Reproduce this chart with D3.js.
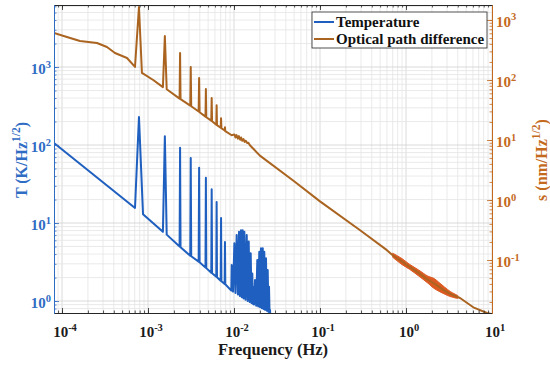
<!DOCTYPE html>
<html>
<head>
<meta charset="utf-8">
<script src="https://cdn.jsdelivr.net/npm/d3@7"></script>
<style>
  body { margin: 0; background: #fff; }
  svg text { font-family: "Liberation Serif", "Times New Roman", serif; font-weight: bold; }
</style>
</head>
<body>
<div id="chart"></div>
<script>
// tick labels (10^exp)
var xTicks = [1e-4, 1e-3, 1e-2, 1e-1, 1, 10];
var xTickExp = ["-4", "-3", "-2", "-1", "0", "1"];
var tTicks = [1, 10, 100, 1000];
var tTickExp = ["0", "1", "2", "3"];
var sTicks = [0.1, 1, 10, 100, 1000];
var sTickExp = ["-1", "0", "1", "2", "3"];

var seriesNames = ["Temperature", "Optical path difference"];

// temperature ASD, K/Hz^1/2 (left axis)
var tempFreq = [8.07e-5, 7.06e-4, 7.85e-4, 8.75e-4, 1.49e-3, 1.57e-3, 1.65e-3,
  2.33e-3, 2.36e-3, 2.39e-3, 3.10e-3, 3.14e-3, 3.18e-3, 3.88e-3, 3.93e-3, 3.98e-3,
  4.66e-3, 4.71e-3, 4.76e-3, 5.44e-3, 5.50e-3, 5.56e-3, 6.22e-3, 6.28e-3, 6.34e-3,
  7.00e-3, 7.07e-3, 7.14e-3, 7.78e-3, 7.85e-3, 7.92e-3, 9.30e-3, 9.40e-3,
  9.75e-3, 0.0101, 0.0104, 0.01074, 0.0111, 0.01143, 0.0117, 0.01205, 0.0123, 0.01262,
  0.0129, 0.0132, 0.0136, 0.01406, 0.0144, 0.01483, 0.0152, 0.01564, 0.0160, 0.01633,
  0.0165, 0.01676, 0.0171, 0.01754, 0.0181, 0.01866, 0.0191, 0.01968, 0.0201, 0.0206,
  0.0211, 0.0216, 0.0221, 0.0225, 0.0230, 0.02355, 0.0241, 0.02466, 0.0251, 0.02553,
  0.0259, 0.02624, 0.0265];
var tempVal = [106, 15.6, 228, 13.0, 7.7, 130, 7.1,
  5.0, 92, 4.9, 3.8, 68, 3.75, 3.2, 51, 3.15,
  2.68, 38, 2.64, 2.3, 27, 2.27, 2.05, 18.6, 2.02,
  1.82, 11.6, 1.79, 1.66, 5.7, 1.64, 1.36, 2.9,
  1.32, 5.5, 1.27, 7.0, 1.21, 7.7, 1.16, 8.1, 1.12, 8.1,
  1.08, 7.7, 1.04, 7.0, 1.00, 5.8, 0.97, 4.1, 0.94, 2.26,
  0.92, 1.52, 0.90, 1.86, 0.87, 3.35, 0.85, 4.29, 0.83, 4.74,
  0.81, 4.74, 0.79, 4.29, 0.77, 3.53, 0.75, 2.5, 0.73, 1.52,
  0.71, 0.77, 0.6];

// optical path difference ASD, nm/Hz^1/2 (right axis)
var opdFreq = [8.07e-5, 1.14e-4, 1.62e-4, 2.55e-4, 3.33e-4, 4.13e-4, 5.7e-4, 7.06e-4,
  7.85e-4, 8.5e-4, 1.15e-3, 1.49e-3, 1.57e-3, 1.65e-3, 2.33e-3, 2.36e-3, 2.39e-3,
  3.10e-3, 3.14e-3, 3.18e-3, 3.88e-3, 3.93e-3, 3.98e-3, 4.66e-3, 4.71e-3, 4.76e-3,
  5.44e-3, 5.50e-3, 5.56e-3, 6.22e-3, 6.28e-3, 6.34e-3, 7.00e-3, 7.07e-3, 7.14e-3,
  7.78e-3, 7.85e-3, 7.92e-3, 9.4e-3,
  0.0101, 0.0104, 0.0107, 0.0111, 0.0114, 0.0118, 0.0121, 0.0125, 0.0129, 0.0133,
  0.0137, 0.0142, 0.0147, 0.0153, 0.02, 0.05, 0.1, 0.29, 0.6,
  0.7, 0.9, 1.1, 1.4, 1.8, 2.1, 2.4, 2.8, 3.3, 4.25, 6.06, 8.75, 10];
var opdVal = [607, 521, 447, 414, 355, 282, 233, 165,
  1650, 131, 100, 76, 541, 70, 49, 282, 48,
  37.5, 165, 36.5, 29.8, 108, 29, 24.5, 71, 24,
  21, 50, 20.6, 18, 38, 17.7, 16, 23, 15.7,
  14.4, 16.3, 14.1, 12.0,
  12.4, 11.0, 12.1, 10.5, 11.6, 10.1, 11.0, 9.7, 10.4, 9.3,
  9.7, 8.9, 9.0, 8.2, 5.5, 2.05, 0.95, 0.316, 0.146,
  0.12, 0.094, 0.077, 0.061, 0.047, 0.041, 0.036, 0.031, 0.027, 0.0233, 0.0163, 0.0131, 0.0125];

// spread of the noisy optical path difference between 0.7 and 4 Hz
var opdBandFreq = [0.7, 0.9, 1.1, 1.4, 1.8, 2.1, 2.4, 2.8, 3.3, 4.0];
var opdBandLo = [0.111, 0.0838, 0.070, 0.0544, 0.0411, 0.0339, 0.0303, 0.0271, 0.0245, 0.0229];
var opdBandHi = [0.130, 0.1055, 0.0847, 0.0684, 0.0538, 0.0496, 0.0428, 0.0355, 0.0297, 0.0256];

var width = 550;
var height = 365;
var plotLeft = 54, plotRight = 492, plotTop = 5, plotBottom = 313;

var blue = "#1f5fbf";
var blueAxis = "#2f6cc4";
var orange = "#aa6420";
var orangeNoise = "#dc5a22";
var orangeAxis = "#c46a1e";

var x = d3.scaleLog().domain([8.07e-5, 10]).range([plotLeft, plotRight]);
var yT = d3.scaleLog().domain([0.702, 6240]).range([plotBottom, plotTop]);
var yS = d3.scaleLog().domain([0.0131, 1778]).range([plotBottom, plotTop]);

function logTicks(scale) {
  var d = scale.domain(), out = [];
  for (var e = Math.floor(Math.log10(d[0])); e <= Math.ceil(Math.log10(d[1])); e++) {
    for (var m = 1; m < 10; m++) {
      var v = m * Math.pow(10, e);
      if (v >= d[0] && v <= d[1]) out.push(v);
    }
  }
  return out;
}

var svg = d3.select("#chart")
.append("svg")
.attr("width", width)
.attr("height", height);

svg.append("defs").append("clipPath")
.attr("id", "plotclip")
.append("rect")
.attr("x", plotLeft)
.attr("y", plotTop)
.attr("width", plotRight - plotLeft)
.attr("height", plotBottom - plotTop);

// grid
var grid = svg.append("g").attr("class", "grid");
grid.selectAll("line.vx")
.data(logTicks(x))
.enter().append("line")
.attr("x1", function(d) { return x(d); })
.attr("x2", function(d) { return x(d); })
.attr("y1", plotTop)
.attr("y2", plotBottom)
.attr("stroke", function(d) { return xTicks.indexOf(d) >= 0 ? "#d2d2d2" : "#e4e4e4"; })
.attr("stroke-width", 0.8);

grid.selectAll("line.hy")
.data(logTicks(yT))
.enter().append("line")
.attr("x1", plotLeft)
.attr("x2", plotRight)
.attr("y1", function(d) { return yT(d); })
.attr("y2", function(d) { return yT(d); })
.attr("stroke", function(d) { return tTicks.indexOf(d) >= 0 ? "#d2d2d2" : "#e4e4e4"; })
.attr("stroke-width", 0.8);

// series
var plot = svg.append("g").attr("clip-path", "url(#plotclip)");

plot.append("path")
.datum(d3.zip(tempFreq, tempVal))
.attr("fill", "none")
.attr("stroke", blue)
.attr("stroke-width", 2)
.attr("stroke-linejoin", "round")
.attr("d", d3.line().x(function(d) { return x(d[0]); }).y(function(d) { return yT(d[1]); }));

plot.append("path")
.datum(d3.zip(opdBandFreq, opdBandLo, opdBandHi))
.attr("fill", orangeNoise)
.attr("stroke", orangeNoise)
.attr("stroke-width", 1)
.attr("d", d3.area()
  .x(function(d) { return x(d[0]); })
  .y0(function(d) { return yS(d[1]); })
  .y1(function(d) { return yS(d[2]); })
  .curve(d3.curveCatmullRom));

plot.append("path")
.datum(d3.zip(opdFreq, opdVal))
.attr("fill", "none")
.attr("stroke", orange)
.attr("stroke-width", 2)
.attr("stroke-linejoin", "round")
.attr("d", d3.line().x(function(d) { return x(d[0]); }).y(function(d) { return yS(d[1]); }));

// axes (ticks point inward)
function styleAxis(g, color) {
  g.selectAll("path").attr("stroke", color).attr("stroke-width", 1);
  g.selectAll("line").attr("stroke", color).attr("stroke-width", 0.8);
  g.selectAll("text").remove();
}

[[d3.axisBottom, plotBottom], [d3.axisTop, plotTop]].forEach(function(a) {
  svg.append("g")
  .attr("transform", "translate(0," + a[1] + ")")
  .call(a[0](x).tickValues(logTicks(x)).tickSizeInner(-2.5).tickSizeOuter(0).tickFormat(""))
  .call(styleAxis, "#262626");
  svg.append("g")
  .attr("transform", "translate(0," + a[1] + ")")
  .call(a[0](x).tickValues(xTicks).tickSizeInner(-5).tickSizeOuter(0).tickFormat(""))
  .call(styleAxis, "#262626");
});

svg.append("g")
.attr("transform", "translate(" + plotLeft + ",0)")
.call(d3.axisLeft(yT).tickValues(logTicks(yT)).tickSizeInner(-2.5).tickSizeOuter(0).tickFormat(""))
.call(styleAxis, blueAxis);
svg.append("g")
.attr("transform", "translate(" + plotLeft + ",0)")
.call(d3.axisLeft(yT).tickValues(tTicks).tickSizeInner(-5).tickSizeOuter(0).tickFormat(""))
.call(styleAxis, blueAxis);

svg.append("g")
.attr("transform", "translate(" + plotRight + ",0)")
.call(d3.axisRight(yS).tickValues(logTicks(yS)).tickSizeInner(-2.5).tickSizeOuter(0).tickFormat(""))
.call(styleAxis, orangeAxis);
svg.append("g")
.attr("transform", "translate(" + plotRight + ",0)")
.call(d3.axisRight(yS).tickValues(sTicks).tickSizeInner(-5).tickSizeOuter(0).tickFormat(""))
.call(styleAxis, orangeAxis);

// power-of-ten labels
function powLabel(sel, exps) {
  sel.append("tspan").text("10");
  sel.append("tspan")
  .attr("dy", -6.5)
  .attr("font-size", 10.5)
  .text(function(d, i) { return exps[i]; });
}

svg.append("g").selectAll("text")
.data(xTicks)
.enter().append("text")
.attr("x", function(d) { return x(d) + 3; })
.attr("y", 337)
.attr("text-anchor", "middle")
.attr("font-size", 15)
.attr("fill", "#1a1a1a")
.call(powLabel, xTickExp);

svg.append("g").selectAll("text")
.data(tTicks)
.enter().append("text")
.attr("x", 51)
.attr("y", function(d) { return yT(d) + 7; })
.attr("text-anchor", "end")
.attr("font-size", 15)
.attr("fill", blueAxis)
.call(powLabel, tTickExp);

svg.append("g").selectAll("text")
.data(sTicks)
.enter().append("text")
.attr("x", 496)
.attr("y", function(d) { return yS(d) + 7; })
.attr("text-anchor", "start")
.attr("font-size", 15)
.attr("fill", orangeAxis)
.call(powLabel, sTickExp);

// axis titles
svg.append("text")
.attr("x", (plotLeft + plotRight) / 2)
.attr("y", 355)
.attr("text-anchor", "middle")
.attr("font-size", 16.5)
.attr("fill", "#1a1a1a")
.text("Frequency (Hz)");

function yTitle(cx, cy, prefix, color) {
  var t = svg.append("text")
  .attr("transform", "translate(" + cx + "," + cy + ") rotate(-90)")
  .attr("text-anchor", "middle")
  .attr("font-size", 16)
  .attr("fill", color);
  t.append("tspan").text(prefix + " (" + (prefix == "T" ? "K" : "nm") + "/Hz");
  t.append("tspan").attr("dy", -7).attr("font-size", 11.5).text("1/2");
  t.append("tspan").attr("dy", 7).text(")");
}
yTitle(27, 160, "T", blueAxis);
yTitle(547, 160, "s", orangeAxis);

// legend
var legend = svg.append("g");
legend.append("rect")
.attr("x", 312)
.attr("y", 12)
.attr("width", 175)
.attr("height", 36)
.attr("fill", "#fff")
.attr("stroke", "#262626")
.attr("stroke-width", 0.8);

legend.selectAll("g.item")
.data(seriesNames)
.enter().append("g")
.each(function(d, i) {
  var g = d3.select(this);
  var yy = 22 + i * 17;
  g.append("line")
  .attr("x1", 314).attr("x2", 334)
  .attr("y1", yy).attr("y2", yy)
  .attr("stroke", i == 0 ? blue : orange)
  .attr("stroke-width", 2);
  g.append("text")
  .attr("x", 336)
  .attr("y", yy + 5)
  .attr("font-size", 15)
  .attr("fill", "#111")
  .text(d);
});
</script>
</body>
</html>
